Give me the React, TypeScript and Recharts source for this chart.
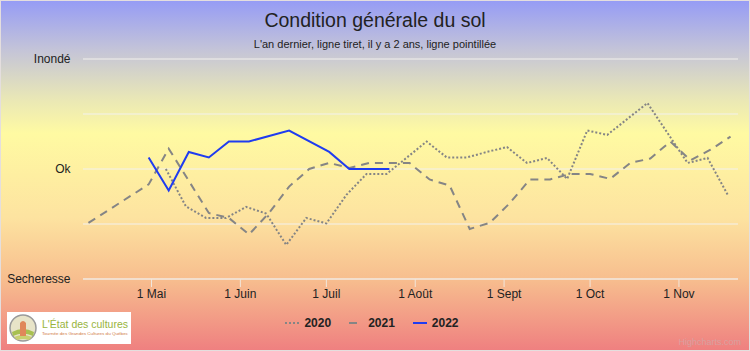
import { LineChart, Line, XAxis, YAxis, CartesianGrid } from "recharts";

// dates are MM-DD, values: -100 = Secheresse, 0 = Ok, 100 = Inondé
const dates2020 = [
  "05-06", "05-13", "05-20", "05-27", "06-03", "06-10", "06-17", "06-24", "07-01",
  "07-08", "07-15", "07-22", "08-05", "08-12", "08-19", "08-26", "09-02", "09-09",
  "09-16", "09-23", "09-30", "10-07", "10-14", "10-21", "11-04", "11-11", "11-18",
];
const values2020 = [
  0, -34, -44.5, -44.5, -34.5, -40.5, -69, -44.5, -49.5,
  -23.5, -4.5, -4.5, 25, 10.5, 10.5, 15.5, 20, 5.5,
  10, -9, 35, 31, 45.5, 60, 5.5, 10, -23.5,
];

const dates2021 = [
  "04-09", "04-30", "05-07", "05-21", "05-28", "06-04", "06-11", "06-18", "06-25",
  "07-02", "07-09", "07-16", "07-23", "07-30", "08-06", "08-13", "08-20", "08-27",
  "09-03", "09-10", "09-17", "09-24", "10-01", "10-08", "10-15", "10-22", "10-29",
  "11-05", "11-12", "11-19",
];
const values2021 = [
  -49, -14, 18.5, -40, -44.5, -59.5, -40, -16, 0,
  5.5, 1, 5.5, 5.5, 5.5, -9.5, -15, -54.5, -49,
  -31, -9.5, -9.5, -4.5, -4.5, -9, 5.5, 9.5, 25,
  8, 17.5, 29.5,
];

const dates2022 = ["04-30", "05-07", "05-14", "05-21", "05-28", "06-04", "06-18", "07-02", "07-09", "07-23"];
const values2022 = [10.5, -19.5, 15.5, 10.5, 25, 25, 35, 15.5, 0, 0];

const monthTicks = ["05-01", "06-01", "07-01", "08-01", "09-01", "10-01", "11-01"];
const monthLabels = ["1 Mai", "1 Juin", "1 Juil", "1 Août", "1 Sept", "1 Oct", "1 Nov"];

const yTicks = [-100, -50, 0, 50, 100];
const yLabels = ["Secheresse", "", "Ok", "", "Inondé"];

const toDay = (md: string) => {
  const [m, d] = md.split("-").map(Number);
  return (Date.UTC(2001, m - 1, d) - Date.UTC(2001, 4, 1)) / 86400000;
};
const build = (dates: string[], values: number[]) =>
  dates.map((d, i) => ({ day: toDay(d), value: values[i] }));

const data2020 = build(dates2020, values2020);
const data2021 = build(dates2021, values2021);
const data2022 = build(dates2022, values2022);
const xTicks = monthTicks.map(toDay);

const FONT = "'Liberation Sans', Arial, sans-serif";
const GRAY = "#858585";
const BLUE = "#1f3cf0";

const legendItems = [
  { name: "2020", color: GRAY, dash: "2 2" },
  { name: "2021", color: GRAY, dash: "8 6" },
  { name: "2022", color: BLUE, dash: undefined },
];

export default function App() {
  return (
    <div
      style={{
        position: "absolute",
        left: 0,
        top: 0,
        width: 750,
        height: 351,
        fontFamily: FONT,
        background:
          "linear-gradient(to bottom, #969cf5 0%, #c4c4d8 14%, #e9e7b6 28%, #fffaa2 38%, #fde3a0 62%, #f7bd8e 80%, #ef8080 100%)",
        boxSizing: "border-box",
        border: "1px solid #e4dede",
        overflow: "hidden",
      }}
    >
      <div style={{ position: "absolute", top: 8, width: "100%", textAlign: "center", fontSize: 19.5, color: "#222" }}>
        Condition générale du sol
      </div>
      <div style={{ position: "absolute", top: 37, width: "100%", textAlign: "center", fontSize: 11, color: "#222" }}>
        L'an dernier, ligne tiret, il y a 2 ans, ligne pointillée
      </div>

      <div style={{ position: "absolute", left: -1, top: -1 }}>
        <LineChart width={750} height={351} margin={{ top: 59, right: 12, bottom: 42, left: 0 }}>
          <CartesianGrid horizontal vertical={false} stroke="#f3f1ee" strokeWidth={1} />
          <XAxis
            type="number"
            dataKey="day"
            domain={[-23.9, 204.6]}
            allowDataOverflow
            ticks={xTicks}
            tickFormatter={(v: number) => monthLabels[xTicks.indexOf(v)] ?? ""}
            height={30}
            tickSize={8}
            tickMargin={2}
            stroke="#f1e6dc"
            tick={{ fill: "#222", fontSize: 12, fontFamily: FONT }}
          />
          <YAxis
            type="number"
            domain={[-100, 100]}
            ticks={yTicks}
            tickFormatter={(v: number) => yLabels[yTicks.indexOf(v)] ?? ""}
            width={83}
            axisLine={false}
            tickLine={false}
            tickMargin={6.5}
            tick={{ fill: "#222", fontSize: 12, fontFamily: FONT }}
          />
          <Line
            data={data2020}
            dataKey="value"
            name="2020"
            stroke={GRAY}
            strokeWidth={2}
            strokeDasharray="2 2"
            dot={false}
            activeDot={false}
            isAnimationActive={false}
          />
          <Line
            data={data2021}
            dataKey="value"
            name="2021"
            stroke={GRAY}
            strokeWidth={2}
            strokeDasharray="8 6"
            dot={false}
            activeDot={false}
            isAnimationActive={false}
          />
          <Line
            data={data2022}
            dataKey="value"
            name="2022"
            stroke={BLUE}
            strokeWidth={2}
            dot={false}
            activeDot={false}
            isAnimationActive={false}
          />
        </LineChart>
      </div>

      {/* legend */}
      <div
        style={{
          position: "absolute",
          top: 314,
          left: -4,
          width: 750,
          display: "flex",
          justifyContent: "center",
          gap: 18,
          fontSize: 12,
          fontWeight: "bold",
          color: "#222",
        }}
      >
        {legendItems.map((it) => (
          <div key={it.name} style={{ display: "flex", alignItems: "center", gap: 5 }}>
            <svg width={14} height={16}>
              <line x1={0} y1={8} x2={14} y2={8} stroke={it.color} strokeWidth={2} strokeDasharray={it.dash} />
            </svg>
            <span>{it.name}</span>
          </div>
        ))}
      </div>

      {/* logo */}
      <svg style={{ position: "absolute", left: 6, top: 311 }} width={124} height={32}>
        <rect x={0} y={0} width={124} height={32} fill="#fff" />
        <circle cx={16} cy={16} r={13} fill="#e8e4c8" stroke="#9a9a9a" strokeWidth={1.5} />
        <path d="M5 20 Q16 14 27 20 L26 24 Q16 19 6 24 Z" fill="#a8c050" />
        <path d="M7 25 Q16 21 25 25 L22 28 Q16 26 10 28 Z" fill="#c8d070" />
        <path d="M13 24 L13 11 Q16 7 19 11 L19 24 Z" fill="#e0875a" />
        <text x={35} y={16} fontSize={10.5} fill="#98b43c" fontFamily={FONT} textLength={86} lengthAdjust="spacingAndGlyphs">
          L'État des cultures
        </text>
        <text x={35} y={23} fontSize={4} fill="#d07a40" fontFamily={FONT} textLength={86} lengthAdjust="spacingAndGlyphs">
          Tournée des Grandes Cultures du Québec
        </text>
      </svg>

      <div style={{ position: "absolute", right: 8, top: 336, fontSize: 9, color: "#d8a0a0" }}>Highcharts.com</div>
    </div>
  );
}
